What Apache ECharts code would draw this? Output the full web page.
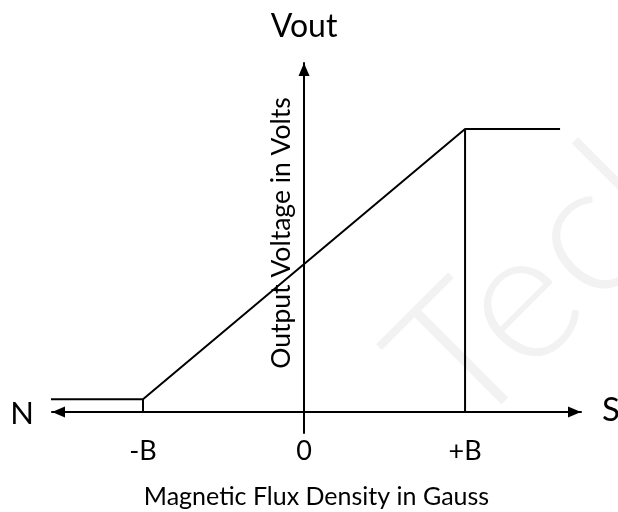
<!DOCTYPE html>
<html>
<head>
<meta charset="utf-8">
<script src="https://cdn.jsdelivr.net/npm/echarts@6/dist/echarts.min.js"></script>
<style>
  html, body { margin: 0; padding: 0; background: #fff; }
  #chart { width: 618px; height: 512px; }
</style>
</head>
<body>
<div id="chart"></div>
<script>
// flux density in units of B, output voltage in units of the saturated level
var fluxB = [-1.62, -1, 1, 1.59];
var vout = [0.045, 0.045, 1, 1];
var tickValues = [-1, 0, 1];
var tickLabels = ['-B', '0', '+B'];

var FONT = 'Lato';

var chart = echarts.init(document.getElementById('chart'), null, { renderer: 'canvas' });

var option = {
  animation: false,
  backgroundColor: '#fff',
  grid: { left: 52, right: 37, top: 63, bottom: 79, outerBoundsMode: 'none', containLabel: false },
  xAxis: {
    type: 'value',
    min: -1.565,
    max: 1.72,
    name: 'Magnetic Flux Density in Gauss',
    nameLocation: 'middle',
    nameGap: 51,
    nameTextStyle: { color: '#000', fontFamily: FONT, fontSize: 25 },
    axisLine: {
      onZero: true,
      symbol: ['triangle', 'triangle'],
      symbolSize: [11, 13],
      symbolOffset: [6.5, -6.5],
      lineStyle: { color: '#000', width: 2 }
    },
    axisTick: { show: false },
    splitLine: { show: false },
    axisLabel: {
      customValues: tickValues,
      margin: 5,
      color: '#000',
      fontFamily: FONT,
      fontSize: 27,
      formatter: function (v) {
        var i = tickValues.indexOf(v);
        return i >= 0 ? tickLabels[i] : '';
      }
    }
  },
  yAxis: {
    type: 'value',
    min: -0.074,
    max: 1.233,
    name: 'Vout',
    nameLocation: 'end',
    nameGap: 20,
    nameTextStyle: { color: '#000', fontFamily: FONT, fontSize: 32 },
    axisLine: {
      onZero: true,
      symbol: ['none', 'triangle'],
      symbolSize: [11, 13],
      symbolOffset: [0, -6.5],
      lineStyle: { color: '#000', width: 2 }
    },
    axisTick: { show: false },
    axisLabel: { show: false },
    splitLine: { show: false }
  },
  graphic: [
    {
      type: 'text', x: 490, y: 462, rotation: Math.PI / 4, z: -10, silent: true,
      style: { text: 'Tech', fill: '#f2f2f2', font: '300 185px ' + FONT, textAlign: 'left', textVerticalAlign: 'bottom' }
    },
    {
      type: 'text', x: 281, y: 233, rotation: Math.PI / 2,
      style: { text: 'Output Voltage in Volts', fill: '#000', font: '26.5px ' + FONT, textAlign: 'center', textVerticalAlign: 'middle' }
    },
    {
      type: 'text', x: 22, y: 414,
      style: { text: 'N', fill: '#000', font: '31px ' + FONT, textAlign: 'center', textVerticalAlign: 'middle' }
    },
    {
      type: 'text', x: 602, y: 410,
      style: { text: 'S', fill: '#000', font: '33px ' + FONT, textAlign: 'left', textVerticalAlign: 'middle' }
    }
  ],
  series: [
    {
      name: 'Vout',
      type: 'line',
      clip: false,
      symbol: 'none',
      lineStyle: { color: '#000', width: 2 },
      data: fluxB.map(function (b, i) { return [b, vout[i]]; })
    },
    {
      name: '+B drop',
      type: 'line',
      symbol: 'none',
      lineStyle: { color: '#000', width: 2 },
      data: [[fluxB[2], 0], [fluxB[2], vout[2]]]
    },
    {
      name: '-B drop',
      type: 'line',
      symbol: 'none',
      lineStyle: { color: '#000', width: 2 },
      data: [[fluxB[1], 0], [fluxB[1], vout[1]]]
    }
  ]
};

chart.setOption(option);
</script>
</body>
</html>
